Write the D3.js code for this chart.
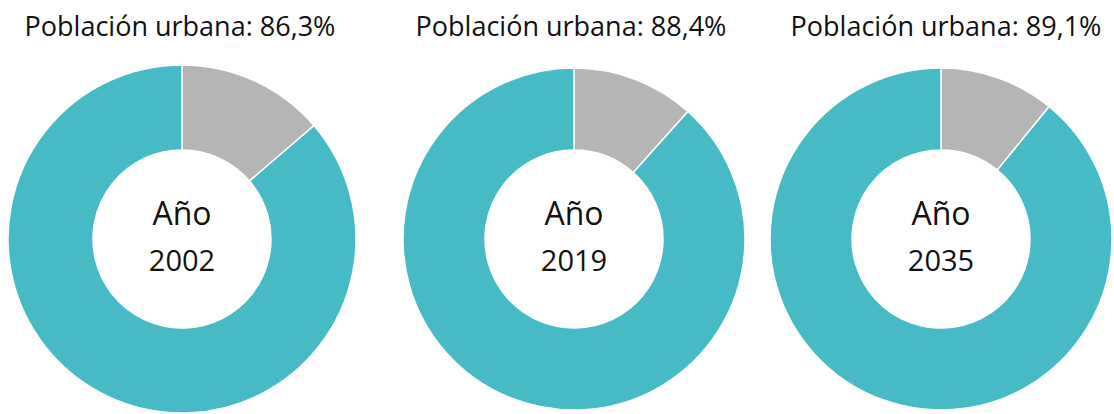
<!DOCTYPE html>
<html>
<head>
<meta charset="utf-8">
<script src="https://cdn.jsdelivr.net/npm/d3@7"></script>
<style>
    body { margin: 0; background: #fff; }
    text { font-family: 'Open Sans', sans-serif; fill: #111; }
</style>
</head>
<body>
<div id="chart"></div>
<script>
let years = ['2002', '2019', '2035'];
let urban = [86.3, 88.4, 89.1];
let titles = ['Población urbana: 86,3%', 'Población urbana: 88,4%', 'Población urbana: 89,1%'];

let width = 1114;
let height = 414;

let centersX = [182, 574, 941];
let titleX = [180, 571, 946];
let centerY = 239;
let outerR = [174, 171, 171];
let innerR = 89;

const svg = d3.select('#chart')
    .append('svg')
    .attr('width', width)
    .attr('height', height);

let pie = d3.pie().sort(null).value((d) => d.value);
let color = d3.scaleOrdinal()
    .domain(['rural', 'urbana'])
    .range(['#b5b5b5', '#46bbc5']);

years.forEach((year, i) => {
    let data = [
        { key: 'rural', value: 100 - urban[i] },
        { key: 'urbana', value: urban[i] }
    ];

    let arc = d3.arc().innerRadius(innerR).outerRadius(outerR[i]);

    let g = svg.append('g')
        .attr('transform', `translate(${centersX[i]},${centerY})`);

    g.selectAll('path')
        .data(pie(data))
        .join('path')
        .attr('d', arc)
        .attr('fill', (d) => color(d.data.key))
        .attr('stroke', '#fff')
        .attr('stroke-width', 1.5);

    g.append('text')
        .attr('text-anchor', 'middle')
        .attr('y', -14)
        .style('font-size', '32px')
        .text('Año');

    g.append('text')
        .attr('text-anchor', 'middle')
        .attr('y', 32)
        .style('font-size', '29px')
        .text(year);

    svg.append('text')
        .attr('x', titleX[i])
        .attr('y', 36)
        .attr('text-anchor', 'middle')
        .style('font-size', '27px')
        .text(titles[i]);
});
</script>
</body>
</html>
